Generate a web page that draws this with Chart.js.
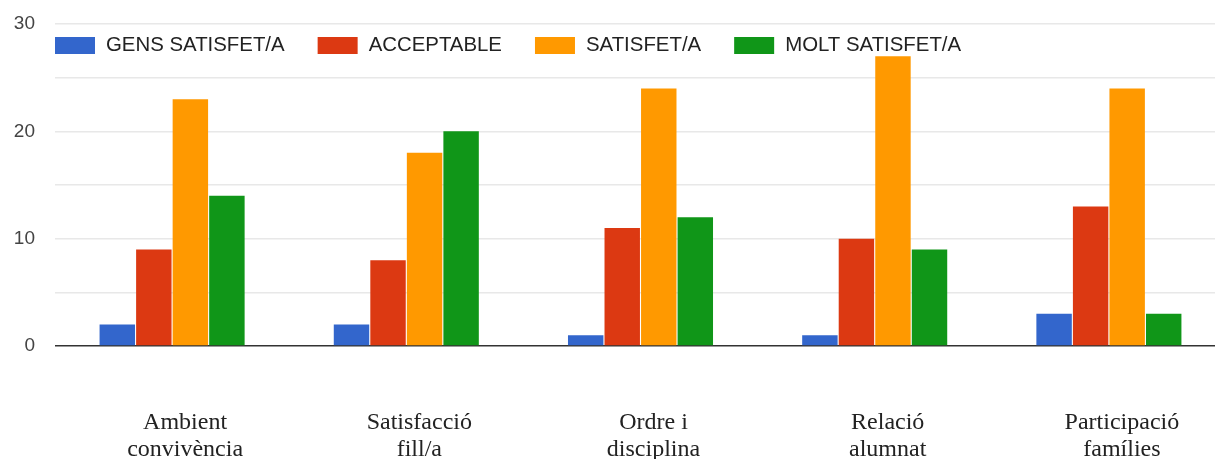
<!DOCTYPE html>
<html>
<head>
<meta charset="utf-8">
<script src="https://cdn.jsdelivr.net/npm/chart.js@4/dist/chart.umd.min.js"></script>
<style>
  html, body { margin: 0; padding: 0; background: #fff; overflow: hidden; }
  #wrap { position: absolute; left: 0; top: 0; }
</style>
</head>
<body>
<div id="wrap"><canvas id="chart" width="1232" height="459"></canvas></div>
<script>
// categories (multi-line labels)
const categories = [
    ['Ambient', 'convivència'],
    ['Satisfacció', 'fill/a'],
    ['Ordre i', 'disciplina'],
    ['Relació', 'alumnat'],
    ['Participació', 'famílies']
];

const seriesNames = ['GENS SATISFET/A', 'ACCEPTABLE', 'SATISFET/A', 'MOLT SATISFET/A'];
const seriesColors = ['#3366cc', '#dc3912', '#ff9900', '#109618'];

const gensSatisfet = [2, 2, 1, 1, 3];
const acceptable = [9, 8, 11, 10, 13];
const satisfet = [23, 18, 24, 27, 24];
const moltSatisfet = [14, 20, 12, 9, 3];

const yTicks = [0, 10, 20, 30];

const seriesValues = [gensSatisfet, acceptable, satisfet, moltSatisfet];

// legend drawn inside plot area, like the original
const topLegend = {
    id: 'topLegend',
    afterDraw(chart) {
        const ctx = chart.ctx;
        ctx.save();
        ctx.font = '20.4px "Liberation Sans", Arial, sans-serif';
        ctx.textBaseline = 'middle';
        let x = chart.chartArea.left;
        const cy = 45.5;
        chart.data.datasets.forEach(ds => {
            ctx.fillStyle = ds.backgroundColor;
            ctx.fillRect(x, cy - 8.5, 40, 17);
            ctx.fillStyle = '#222';
            ctx.fillText(ds.label, x + 51, cy);
            x += 51 + ctx.measureText(ds.label).width + 33;
        });
        ctx.restore();
    }
};

const ctx = document.getElementById('chart').getContext('2d');
new Chart(ctx, {
    type: 'bar',
    data: {
        labels: categories,
        datasets: seriesNames.map((name, i) => ({
            label: name,
            data: seriesValues[i],
            backgroundColor: seriesColors[i],
            borderWidth: 0,
            barPercentage: 0.97,
            categoryPercentage: 0.624
        }))
    },
    options: {
        responsive: false,
        animation: false,
        layout: {
            padding: { left: 13, right: 6, top: 24, bottom: 0 }
        },
        plugins: {
            legend: { display: false },
            tooltip: { enabled: false }
        },
        scales: {
            x: {
                grid: { display: false, drawTicks: false },
                border: { display: false },
                afterFit: scale => { scale.height = 113; },
                ticks: {
                    color: '#222',
                    padding: 64,
                    labelOffset: 13,
                    maxRotation: 0,
                    autoSkip: false,
                    font: { family: '"Liberation Serif", "Times New Roman", serif', size: 24, lineHeight: 1.1 }
                }
            },
            y: {
                min: 0,
                max: 30,
                border: { display: false },
                afterFit: scale => {
                    scale.width = 42;
                    scale.paddingTop = 0;
                    scale.paddingBottom = 0;
                },
                grid: {
                    drawTicks: false,
                    lineWidth: 1.5,
                    color: ctx => ctx.tick && ctx.tick.value === 0 ? '#333333' : '#e8e8e8'
                },
                ticks: {
                    stepSize: 5,
                    padding: 20,
                    color: '#444',
                    font: { family: '"Liberation Sans", Arial, sans-serif', size: 19 },
                    callback: value => yTicks.includes(value) ? value : ''
                }
            }
        }
    },
    plugins: [topLegend]
});
</script>
</body>
</html>
